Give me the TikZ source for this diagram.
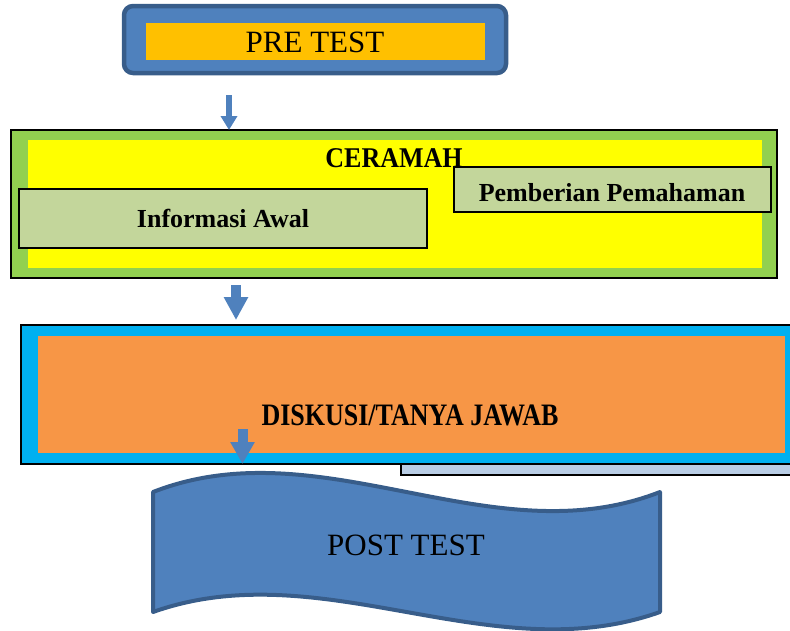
\documentclass[tikz,border=0pt]{standalone}
\usepackage{fontspec}
\setmainfont{Liberation Serif}
\usetikzlibrary{arrows.meta}
\definecolor{pblue}{HTML}{4F81BD}
\definecolor{pbluedk}{HTML}{385D8A}
\definecolor{porange}{HTML}{FFC000}
\definecolor{pgreen}{HTML}{92D050}
\definecolor{pyellow}{HTML}{FFFF00}
\definecolor{polive}{HTML}{C3D69B}
\definecolor{pcyan}{HTML}{00B0F0}
\definecolor{porange2}{HTML}{F79646}
\definecolor{plight}{HTML}{B9CDE5}
\tikzset{
  box/.style={rectangle, inner sep=0pt, outer sep=0pt},
  regtext/.style={font=\fontsize{31}{31}\selectfont, inner sep=0pt},
  boldtext/.style={font=\fontsize{26}{26}\selectfont\bfseries, inner sep=0pt},
  flowarrow/.style={draw=pblue, line width=#1},
}
\begin{document}
\begin{tikzpicture}[x=1pt,y=-1pt]
\useasboundingbox (0,0) rectangle (790,630);
% PRE TEST
\node[box, draw=pbluedk, fill=pblue, line width=4.5pt, rounded corners=9pt,
      minimum width=382pt, minimum height=67pt] (preo) at (315,39.5) {};
\node[box, fill=porange, minimum width=339pt, minimum height=37pt] (prei) at (315.5,41.5) {};
\node[regtext] (pre) at (315,42) {PRE TEST};
% CERAMAH
\node[box, draw=black, fill=pgreen, line width=1.5pt,
      minimum width=766pt, minimum height=148pt] (cer) at (394,204) {};
\node[box, fill=pyellow, minimum width=734pt, minimum height=128pt] (ceri) at (395,204) {};
\node[boldtext] (certxt) at (394,158) {\scalebox{1}[1.1]{CERAMAH}};
\node[box, draw=black, fill=polive, line width=1.5pt,
      minimum width=408pt, minimum height=59pt] (info) at (223,218.5) {};
\node[boldtext] at (info.center) {Informasi Awal};
\node[box, draw=black, fill=polive, line width=1.5pt,
      minimum width=317pt, minimum height=45pt] (pemb) at (612.5,189.5) {};
\node[boldtext] at (612,193) {Pemberian Pemahaman};
% DISKUSI
\node[box, draw=black, fill=plight, line width=1.2pt,
      minimum width=400pt, minimum height=35pt] (shadow) at (601,457.5) {};
\node[box, draw=black, fill=pcyan, line width=1.5pt,
      minimum width=779pt, minimum height=139pt] (dis) at (410.5,394.5) {};
\node[box, fill=porange2, minimum width=747pt, minimum height=117pt] (disi) at (411.5,394.5) {};
\node[boldtext] (distxt) at (410,415) {\scalebox{1}[1.2]{DISKUSI/TANYA JAWAB}};
% POST TEST
\draw[draw=pbluedk, fill=pblue, line width=4pt, line join=round]
  (153,492) .. controls (322,426) and (491,558) .. (660,492)
  -- (660,612) .. controls (491,672) and (322,552) .. (153,612) -- cycle;
\node[regtext] (post) at (406,545) {POST TEST};
% arrows
\coordinate (a1) at (229,95);
\coordinate (a2) at (236,285);
\coordinate (a3) at (242.5,429);
\draw[flowarrow=5.5pt, -{Triangle[width=16pt,length=14pt]}] (a1) -- (a1 |- cer.north);
\draw[flowarrow=10pt, -{Triangle[width=23pt,length=23pt]}, shorten >=5pt] (a2) -- (a2 |- dis.north);
\draw[flowarrow=10pt, -{Triangle[width=23pt,length=22pt]}] (a3) -- (a3 |- dis.south);
\end{tikzpicture}
\end{document}
